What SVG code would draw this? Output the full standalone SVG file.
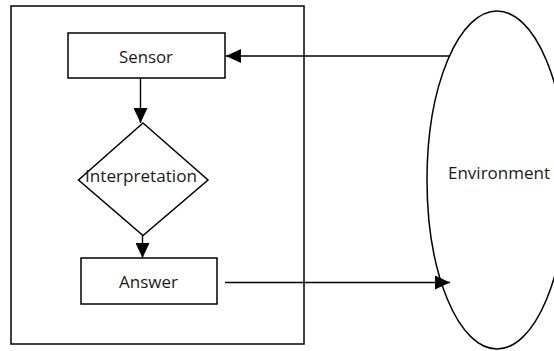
<svg xmlns="http://www.w3.org/2000/svg" width="554" height="351" viewBox="0 0 554 351">
<defs>
<style>
.box{fill:#fff;stroke:#000;stroke-width:1.5}
.ln{fill:none;stroke:#000;stroke-width:1.4}
text{font-family:"Open Sans","Noto Sans","Liberation Sans",sans-serif;font-size:17px;fill:#1a1a1a;text-anchor:middle}
</style>
<marker id="ah" viewBox="0 0 15 14" refX="15" refY="7" markerWidth="15" markerHeight="14" markerUnits="userSpaceOnUse" orient="auto">
<path d="M0,0 L15,7 L0,14 Z" fill="#000"/>
</marker>
</defs>
<rect id="outer" x="11" y="6" width="293" height="338" fill="#fff" stroke="#000" stroke-width="1.5"/>
<g id="environment">
<ellipse cx="497" cy="180" rx="70" ry="169" fill="#fff" stroke="#000" stroke-width="1.5"/>
<text x="499" y="179" textLength="102" lengthAdjust="spacingAndGlyphs">Environment</text>
</g>
<g id="sensor">
<rect class="box" x="68" y="33" width="157" height="45"/>
<text x="146" y="63" textLength="54" lengthAdjust="spacingAndGlyphs">Sensor</text>
</g>
<g id="interpretation">
<polygon class="box" points="143,123 208,180 143,235.5 78.5,180"/>
<text x="141" y="182" textLength="112" lengthAdjust="spacingAndGlyphs">Interpretation</text>
</g>
<g id="answer">
<rect class="box" x="81" y="258" width="136" height="46"/>
<text x="148.5" y="288" textLength="59" lengthAdjust="spacingAndGlyphs">Answer</text>
</g>
<g id="connectors">
<line class="ln" x1="140.5" y1="78" x2="140.5" y2="123" marker-end="url(#ah)"/>
<line class="ln" x1="142.5" y1="235.5" x2="142.5" y2="258" marker-end="url(#ah)"/>
<line class="ln" x1="225" y1="282.5" x2="450" y2="282.5" marker-end="url(#ah)"/>
<line class="ln" x1="450" y1="56" x2="226" y2="56" marker-end="url(#ah)"/>
</g>
</svg>
